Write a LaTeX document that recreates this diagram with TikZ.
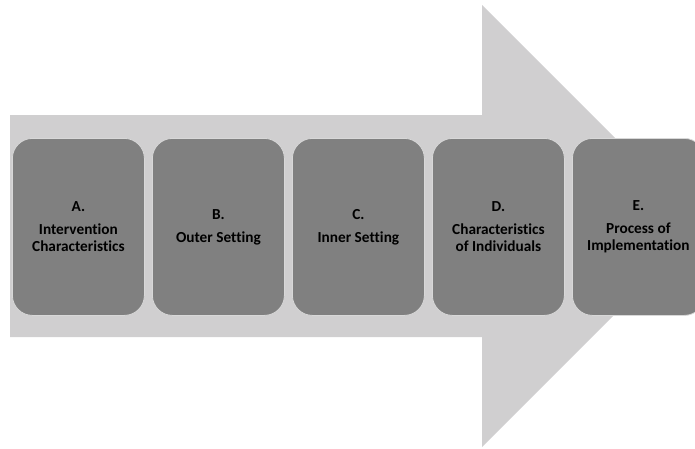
\documentclass[tikz,border=0pt]{standalone}
\usepackage{fontspec}
\setmainfont{Carlito}[Ligatures=NoCommon]
\begin{document}
\begin{tikzpicture}[x=1pt,y=-1pt,
  stage/.style={draw=boxedge, line width=0.8pt, fill=boxfill, rounded corners=20pt,
    minimum width=132pt, minimum height=177pt, inner sep=0pt, anchor=north west,
    align=center, font=\bfseries\fontsize{15.3}{17}\selectfont, text=black}]
\definecolor{arrowfill}{HTML}{D0CFD0}
\definecolor{boxfill}{HTML}{808080}
\definecolor{boxedge}{HTML}{D8D8D8}
\useasboundingbox (0,0) rectangle (695,448);
\clip (0,0) rectangle (695,448);
\fill[arrowfill] (10,115) -- (482,115) -- (482,5) -- (703,226) -- (482,447) -- (482,337) -- (10,337) -- cycle;
\node[stage] (a) at (12,138) {A.\\[6pt]Intervention\\Characteristics};
\node[stage] (b) at (152,138) {B.\\[6pt]Outer Setting};
\node[stage] (c) at (292,138) {C.\\[6pt]Inner Setting};
\node[stage] (d) at (432,138) {D.\\[6pt]Characteristics\\of Individuals};
\node[stage] (e) at (572,138) {E.\\[6pt]Process of\\Implementation};
\end{tikzpicture}
\end{document}
